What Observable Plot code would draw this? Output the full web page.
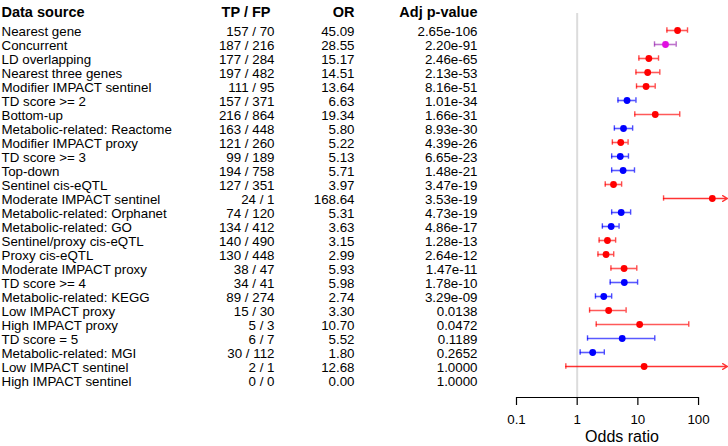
<!DOCTYPE html>
<html><head><meta charset="utf-8">
<script src="https://cdn.jsdelivr.net/npm/d3@7"></script>
<script src="https://cdn.jsdelivr.net/npm/@observablehq/plot@0.6"></script>
<style>body{margin:0;background:#fff;} svg{display:block}</style>
</head><body><div id="chart"></div>
<script>
const sources = ["Nearest gene","Concurrent","LD overlapping","Nearest three genes","Modifier IMPACT sentinel","TD score >= 2","Bottom-up","Metabolic-related: Reactome","Modifier IMPACT proxy","TD score >= 3","Top-down","Sentinel cis-eQTL","Moderate IMPACT sentinel","Metabolic-related: Orphanet","Metabolic-related: GO","Sentinel/proxy cis-eQTL","Proxy cis-eQTL","Moderate IMPACT proxy","TD score >= 4","Metabolic-related: KEGG","Low IMPACT proxy","High IMPACT proxy","TD score = 5","Metabolic-related: MGI","Low IMPACT sentinel","High IMPACT sentinel"];
const tpfp = ["157 / 70","187 / 216","177 / 284","197 / 482","111 / 95","157 / 371","216 / 864","163 / 448","121 / 260","99 / 189","194 / 758","127 / 351","24 / 1","74 / 120","134 / 412","140 / 490","130 / 448","38 / 47","34 / 41","89 / 274","15 / 30","5 / 3","6 / 7","30 / 112","2 / 1","0 / 0"];
const oddsRatio = [45.09,28.55,15.17,14.51,13.64,6.63,19.34,5.80,5.22,5.13,5.71,3.97,168.64,5.31,3.63,3.15,2.99,5.93,5.98,2.74,3.30,10.70,5.52,1.80,12.68,0.00];
const pAdj = ["2.65e-106","2.20e-91","2.46e-65","2.13e-53","8.16e-51","1.01e-34","1.66e-31","8.93e-30","4.39e-26","6.65e-23","1.48e-21","3.47e-19","3.53e-19","4.73e-19","4.86e-17","1.28e-13","2.64e-12","1.47e-11","1.78e-10","3.29e-09","0.0138","0.0472","0.1189","0.2652","1.0000","1.0000"];
const ciLow = [30.1,18.8,10.4,9.3,9.5,4.7,8.9,4.1,3.8,3.7,3.7,2.9,26.5,3.7,2.6,2.3,2.2,3.6,3.5,2.0,1.6,2.06,1.48,1.12,0.65,null];
const ciHigh = [65.8,42.8,21.9,23.0,19.3,9.3,49.0,8.2,6.9,7.0,8.8,5.4,1200,7.6,4.9,4.3,4.0,9.6,9.9,3.7,6.4,69,19,2.8,1000,null];
const groups = ["bottom-up","concurrent","bottom-up","bottom-up","bottom-up","top-down","bottom-up","top-down","bottom-up","top-down","top-down","bottom-up","bottom-up","top-down","top-down","bottom-up","bottom-up","bottom-up","top-down","top-down","bottom-up","bottom-up","top-down","top-down","bottom-up","bottom-up"];
const headers = ["Data source","TP / FP","OR","Adj p-value"];
const xTicks = [0.1, 1, 10, 100];
const xDomain = [0.1, 300];
const axisTitle = "Odds ratio";

const fillColor = {"bottom-up":"#ff0000","top-down":"#0000ff","concurrent":"#e010e0"};
const lineColor = {"bottom-up":"#ff0000","top-down":"#0000ff","concurrent":"#9a28b0"};

const rows = sources.map((s, i) => ({
  source: s, tpfp: tpfp[i], or: oddsRatio[i], orText: oddsRatio[i].toFixed(2),
  p: pAdj[i], lo: ciLow[i], hi: ciHigh[i], group: groups[i]
}));
const withCI = rows.filter(d => d.lo != null);
const inside = withCI.filter(d => d.hi <= xDomain[1]);
const clipped = withCI.filter(d => d.hi > xDomain[1]);

const W = 728, H = 446, mL = 516, mR = 1, mT = 13, mB = 49;
const font = "'Liberation Sans', Arial, Helvetica, sans-serif";
const bodySize = 13.33, headSize = 14.5;
const capHalf = -2.7;
// column anchors in pixels relative to the plot frame's left edge
const colDx = {source: 1 - mL, tpfp: 274 - mL, or: 354 - mL, p: 477 - mL};
const headDx = {source: 1 - mL, tpfp: 270 - mL, or: 354 - mL, p: 477 - mL};

const chart = Plot.plot({
  width: W, height: H,
  marginLeft: mL, marginRight: mR, marginTop: mT, marginBottom: mB,
  style: {fontFamily: font, background: "#fff"},
  x: {type: "log", domain: xDomain},
  y: {type: "point", domain: sources, range: [20.7, 389], axis: null},
  color: {type: "identity"},
  marks: [
    Plot.ruleX([1], {stroke: "#dcdcdc", strokeWidth: 2}),
    Plot.ruleY(inside, {y: "source", x1: "lo", x2: "hi", stroke: d => lineColor[d.group], strokeWidth: 1.6, strokeOpacity: 0.65}),
    Plot.arrow(clipped, {y1: "source", y2: "source", x1: "lo", x2: () => xDomain[1], stroke: d => lineColor[d.group], strokeWidth: 1.4, strokeOpacity: 0.8, headLength: 6, bend: 0}),
    Plot.ruleX(withCI, {x: "lo", y1: "source", y2: "source", stroke: d => lineColor[d.group], strokeWidth: 1.4, strokeOpacity: 0.7, insetTop: capHalf, insetBottom: capHalf}),
    Plot.ruleX(inside, {x: "hi", y1: "source", y2: "source", stroke: d => lineColor[d.group], strokeWidth: 1.4, strokeOpacity: 0.7, insetTop: capHalf, insetBottom: capHalf}),
    Plot.dot(rows.filter(d => d.or > 0), {x: "or", y: "source", r: 3.4, fill: d => fillColor[d.group], stroke: "none"}),
    // table body
    Plot.text(rows, {y: "source", text: "source", frameAnchor: "left", dx: colDx.source, dy: 1, textAnchor: "start", fontSize: bodySize, fill: "#000"}),
    Plot.text(rows, {y: "source", text: "tpfp", frameAnchor: "left", dx: colDx.tpfp, dy: 1, textAnchor: "end", fontSize: bodySize, fill: "#000"}),
    Plot.text(rows, {y: "source", text: "orText", frameAnchor: "left", dx: colDx.or, dy: 1, textAnchor: "end", fontSize: bodySize, fill: "#000"}),
    Plot.text(rows, {y: "source", text: "p", frameAnchor: "left", dx: colDx.p, dy: 1, textAnchor: "end", fontSize: bodySize, fill: "#000"}),
    // headers
    Plot.text([headers[0]], {frameAnchor: "top-left", dx: headDx.source, dy: -6.3, textAnchor: "start", fontSize: headSize, fontWeight: "bold", fill: "#000"}),
    Plot.text([headers[1]], {frameAnchor: "top-left", dx: headDx.tpfp, dy: -6.3, textAnchor: "end", fontSize: headSize, fontWeight: "bold", fill: "#000"}),
    Plot.text([headers[2]], {frameAnchor: "top-left", dx: headDx.or, dy: -6.3, textAnchor: "end", fontSize: headSize, fontWeight: "bold", fill: "#000"}),
    Plot.text([headers[3]], {frameAnchor: "top-left", dx: headDx.p, dy: -6.3, textAnchor: "end", fontSize: headSize, fontWeight: "bold", fill: "#000"}),
    // x axis
    Plot.axisX({ticks: xTicks, tickFormat: d => d3.format("~g")(d), tickSize: 8, tickPadding: 9.5, fontSize: bodySize, label: null, stroke: "#000", strokeWidth: 1.2, fill: "#000"}),
    Plot.ruleY([{a: xTicks[0], b: xTicks[xTicks.length - 1]}], {x1: "a", x2: "b", y: null, dy: (H - mB) - (mT + H - mB) / 2, stroke: "#000", strokeWidth: 1.2}),
    Plot.text([axisTitle], {frameAnchor: "bottom", dy: 44.5, fontSize: 16, fill: "#000"})
  ]
});
document.getElementById("chart").append(chart);
</script>
</body></html>
